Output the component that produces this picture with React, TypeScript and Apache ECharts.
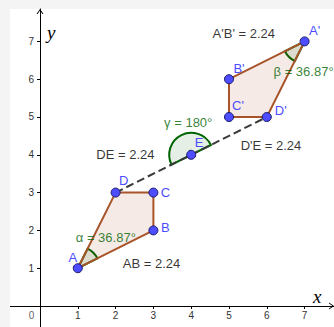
import React, { useEffect, useRef } from "react";
import * as echarts from "echarts";

// ---------- data ----------
const pointNames = ["A", "B", "C", "D", "E", "A'", "B'", "C'", "D'"];
const pointX = [1, 3, 3, 2, 4, 7, 5, 5, 6];
const pointY = [1, 2, 3, 3, 4, 7, 6, 5, 5];
const polygons = [
  ["A", "B", "C", "D"],
  ["A'", "B'", "C'", "D'"],
];
const dashedChain = ["D", "E", "D'"];
const measuredSegments = [
  ["A", "B"],
  ["D", "E"],
  ["D'", "E"],
  ["A'", "B'"],
];
const angleNames = ["α", "β", "γ"];
const angleVertices = ["A", "A'", "E"];
const angleFrom = ["B", "B'", "D'"];
const angleTo = ["D", "D'", "D"];
const xTickValues = [1, 2, 3, 4, 5, 6, 7];
const yTickValues = [1, 2, 3, 4, 5, 6, 7];

// ---------- layout / style ----------
const GRID_LEFT = 40;
const GRID_TOP = 9;
const GRID_BOTTOM = 21;
const X_MAX = 7.778;
const Y_MAX = 7.857;
const pointLabelOffset: Record<string, number[]> = {
  A: [-5, -11],
  B: [12, -3],
  C: [12, 0],
  D: [8, -12],
  E: [8, -12],
  "A'": [10, -11],
  "B'": [10, -11],
  "C'": [9, -11],
  "D'": [14, -6],
};
const segLabelOffset = [
  [36, 14],
  [-28, -19],
  [42, 10],
  [-23, -27],
];
const angleLabelOffset = [
  [28, -31],
  [-1, 30],
  [-3, -32],
];
const SANS = "Liberation Sans";
const POINT_BLUE = "#4d4dff";
const GREEN = "#006400";
const BROWN = "#a8542a";
const ARROW = "path://M0,5 L3.5,0 L7,5 L5.9,5 L3.5,1.5 L1.1,5 Z";

const P = (n: string): number[] => {
  const i = pointNames.indexOf(n);
  return [pointX[i], pointY[i]];
};
const fmt = (v: number) => String(Number(v.toFixed(2)));

export default function App() {
  const ref = useRef<HTMLDivElement>(null);
  useEffect(() => {
    const el = ref.current;
    if (!el) return;
    const chart = echarts.init(el, undefined, { renderer: "svg" });

    const segTexts = measuredSegments.map(([a, b]) => {
      const [x1, y1] = P(a);
      const [x2, y2] = P(b);
      return { name: `${a}${b} = ${fmt(Math.hypot(x2 - x1, y2 - y1))}`, mid: [(x1 + x2) / 2, (y1 + y2) / 2] };
    });
    const angleTexts = angleNames.map((g, i) => {
      const [vx, vy] = P(angleVertices[i]);
      const [fx, fy] = P(angleFrom[i]);
      const [tx, ty] = P(angleTo[i]);
      let d = Math.atan2(ty - vy, tx - vx) - Math.atan2(fy - vy, fx - vx);
      while (d < 0) d += Math.PI * 2;
      return { name: `${g} = ${fmt((d * 180) / Math.PI)}°`, at: [vx, vy] };
    });

    const textLabel = {
      show: true,
      position: "inside",
      formatter: "{b}",
      fontSize: 13,
      fontFamily: SANS,
      textBorderWidth: 0,
      textBorderColor: "transparent",
    };

    const axisY = 327 - GRID_BOTTOM + 0.5;
    const axisX = GRID_LEFT + 0.5;

    const option: any = {
      animation: false,
      backgroundColor: "#ffffff",
      grid: {
        left: GRID_LEFT,
        top: GRID_TOP,
        right: 0,
        bottom: GRID_BOTTOM,
        containLabel: false,
        outerBoundsMode: "none",
      },
      xAxis: {
        type: "value",
        min: 0,
        max: X_MAX,
        axisLine: {
          onZero: false,
          lineStyle: { color: "#000", width: 1 },
          symbol: ["none", ARROW],
          symbolSize: [7, 5],
          symbolOffset: [0, -2.5],
        },
        axisTick: { show: true, length: 3, customValues: xTickValues, lineStyle: { color: "#000" } },
        axisLabel: { customValues: xTickValues, margin: 4, color: "#333", fontSize: 10, fontFamily: SANS },
        splitLine: { show: false },
      },
      yAxis: {
        type: "value",
        min: 0,
        max: Y_MAX,
        axisLine: {
          onZero: false,
          lineStyle: { color: "#000", width: 1 },
          symbol: ["none", ARROW],
          symbolSize: [7, 5],
          symbolOffset: [0, -2.5],
        },
        axisTick: { show: true, length: 3, customValues: yTickValues, lineStyle: { color: "#000" } },
        axisLabel: { customValues: yTickValues, margin: 6, color: "#333", fontSize: 10, fontFamily: SANS },
        splitLine: { show: false },
      },
      graphic: {
        elements: [
          { type: "rect", shape: { x: 0, y: 0, width: 10, height: 327 }, style: { fill: "#f4f4f4" }, z: -10, silent: true },
          { type: "rect", shape: { x: 0, y: 0, width: 334, height: 9 }, style: { fill: "#f4f4f4" }, z: -10, silent: true },
          {
            type: "line",
            shape: { x1: 10, y1: axisY, x2: axisX, y2: axisY },
            style: { stroke: "#000", lineWidth: 1 },
            silent: true,
          },
          {
            type: "line",
            shape: { x1: axisX, y1: axisY, x2: axisX, y2: 327 },
            style: { stroke: "#000", lineWidth: 1 },
            silent: true,
          },
          {
            type: "text",
            x: 47,
            y: 32,
            style: { text: "y", fontSize: 19, fontStyle: "italic", fontFamily: "Liberation Serif", fill: "#000", verticalAlign: "middle" },
            silent: true,
          },
          {
            type: "text",
            x: 313,
            y: 296,
            style: { text: "x", fontSize: 19, fontStyle: "italic", fontFamily: "Liberation Serif", fill: "#000", verticalAlign: "middle" },
            silent: true,
          },
        ],
      },
      series: [
        {
          type: "custom",
          z: 2,
          silent: true,
          clip: false,
          data: angleVertices.map((v) => P(v)),
          renderItem: (params: any, api: any) => {
            const i = params.dataIndex;
            const c = api.coord(P(angleVertices[i]));
            const p1 = api.coord(P(angleFrom[i]));
            const p2 = api.coord(P(angleTo[i]));
            const start = Math.atan2(p2[1] - c[1], p2[0] - c[0]);
            let end = Math.atan2(p1[1] - c[1], p1[0] - c[0]);
            while (end < start) end += Math.PI * 2;
            return {
              type: "sector",
              shape: { cx: c[0], cy: c[1], r: 22, r0: 0, startAngle: start, endAngle: end, clockwise: true },
              style: { fill: "rgba(0,100,0,0.1)", stroke: GREEN, lineWidth: 2 },
            };
          },
        },
        {
          type: "custom",
          z: 3,
          silent: true,
          clip: false,
          data: polygons.map((p) => P(p[0])),
          renderItem: (params: any, api: any) => {
            const poly = polygons[params.dataIndex];
            return {
              type: "polygon",
              shape: { points: poly.map((n) => api.coord(P(n))) },
              style: { fill: "rgba(153,51,0,0.1)", stroke: BROWN, lineWidth: 2, lineJoin: "round" },
            };
          },
        },
        {
          type: "line",
          z: 4,
          silent: true,
          symbol: "none",
          data: dashedChain.map((n) => P(n)),
          lineStyle: { color: "#3a3a3a", width: 2, type: [8, 4] },
        },
        {
          type: "scatter",
          z: 6,
          silent: true,
          symbolSize: 9,
          itemStyle: { color: POINT_BLUE, borderColor: "#1a1a66", borderWidth: 1, opacity: 1 },
          label: { ...textLabel, color: POINT_BLUE },
          data: pointNames.map((n) => ({ name: n, value: P(n), label: { offset: pointLabelOffset[n] } })),
        },
        {
          type: "scatter",
          z: 7,
          silent: true,
          symbolSize: 1,
          clip: false,
          itemStyle: { color: "rgba(0,0,0,0)" },
          label: { ...textLabel, color: "#000" },
          data: [
            ...segTexts.map((s, i) => ({ name: s.name, value: s.mid, label: { offset: segLabelOffset[i] } })),
            ...angleTexts.map((a, i) => ({ name: a.name, value: a.at, label: { offset: angleLabelOffset[i], color: GREEN } })),
            { name: "0", value: [0, 0], label: { offset: [-8.5, 9.2], color: "#333", fontSize: 10 } },
          ],
        },
      ],
    };
    chart.setOption(option);
    return () => chart.dispose();
  }, []);
  return <div ref={ref} style={{ position: "fixed", left: 0, top: 0, width: 334, height: 327 }} />;
}
